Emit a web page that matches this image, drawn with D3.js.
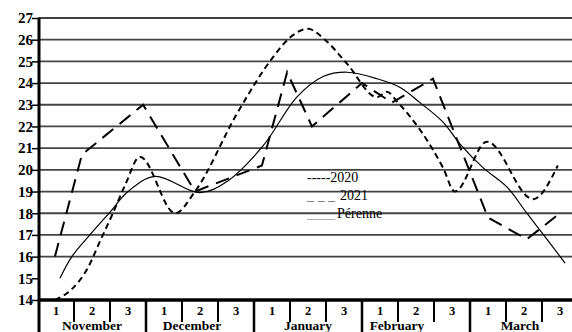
<!DOCTYPE html>
<html>
<head>
<meta charset="utf-8">
<script src="https://d3js.org/d3.v7.min.js"></script>
<style>
  body { margin: 0; background: #fff; }
  svg { display: block; font-family: "Liberation Serif", "Times New Roman", serif; }
</style>
</head>
<body>
<svg class="chart"></svg>
<script>
const svgWidth = 572;
const svgHeight = 332;

// time unit = one decade (10 days), 0 = start of November
const months = ["November", "December", "January", "February", "March"];
const decadeLabels = ["1", "2", "3"];
const yTicks = [14, 15, 16, 17, 18, 19, 20, 21, 22, 23, 24, 25, 26, 27];

// [decade position, temperature]
const data2020 = [
  [0.47, 14.0], [0.94, 14.5], [1.39, 15.5], [1.72, 16.7], [2.08, 18.0],
  [2.42, 19.3], [2.83, 20.6], [3.81, 18.0], [4.36, 19.0], [5.53, 22.6],
  [6.53, 25.2], [7.0, 26.1], [7.5, 26.5], [7.97, 26.0], [8.58, 24.9],
  [9.42, 23.35], [9.69, 23.6], [10.0, 23.1], [11.25, 20.1], [11.58, 19.0],
  [12.47, 21.3], [13.75, 18.65], [14.44, 20.2]
];
const data2021 = [
  [0.47, 16.0], [1.22, 20.7], [2.92, 23.0], [4.36, 19.0], [6.22, 20.2],
  [6.92, 24.5], [7.61, 22.0], [9.0, 24.0], [9.83, 23.1], [10.97, 24.2],
  [12.5, 17.8], [13.58, 16.8], [14.42, 17.9]
];
const dataPerenne = [
  [0.61, 15.0], [0.94, 16.0], [1.44, 17.0], [2.0, 18.05], [2.5, 19.0],
  [3.25, 19.7], [4.5, 18.95], [5.28, 19.5], [6.25, 21.1], [7.19, 23.35],
  [7.92, 24.3], [8.58, 24.5], [9.42, 24.2], [10.06, 23.8], [10.61, 23.1],
  [11.25, 22.2], [11.72, 21.2], [12.36, 20.1], [13.03, 19.2], [13.58, 18.0],
  [14.14, 16.8], [14.64, 15.7]
];

const margin = { top: 18, left: 38, bottom: 32 };
const innerBottom = svgHeight - margin.bottom; // 300

const svg = d3.select(".chart")
  .attr("width", svgWidth)
  .attr("height", svgHeight);

const x = d3.scaleLinear().domain([0, 15]).range([margin.left, margin.left + 15 * 36]);
const y = d3.scaleLinear().domain([14, 27]).range([innerBottom, margin.top]);

// horizontal grid lines (none at 15)
svg.append("g")
  .selectAll("line")
  .data(yTicks.filter(d => d !== 14 && d !== 15))
  .enter().append("line")
    .attr("x1", margin.left)
    .attr("x2", svgWidth)
    .attr("y1", d => y(d))
    .attr("y2", d => y(d))
    .attr("stroke", d => d === 27 ? "#000" : "#444")
    .attr("stroke-width", d => d === 27 ? 1.5 : 1.8);

// y axis
const yAxis = svg.append("g")
  .attr("transform", "translate(" + margin.left + ",0)")
  .call(d3.axisLeft(y).tickValues(yTicks).tickSize(6).tickSizeOuter(0).tickFormat(d3.format("d")));
yAxis.select(".domain").remove();
yAxis.selectAll(".tick line").attr("stroke", "#000").attr("stroke-width", 1.5);
yAxis.selectAll(".tick text")
  .attr("x", -5)
  .attr("font-family", "Liberation Serif")
  .attr("font-weight", "bold")
  .attr("font-size", 15)
  .attr("fill", "#000");

// decade ticks and labels under the axis
const decades = d3.range(15);
svg.append("g")
  .selectAll("line")
  .data(decades.filter(d => d % 3 !== 0))
  .enter().append("line")
    .attr("x1", d => x(d)).attr("x2", d => x(d))
    .attr("y1", innerBottom).attr("y2", innerBottom + 22)
    .attr("stroke", "#000").attr("stroke-width", 2);

svg.append("g")
  .selectAll("line")
  .data(d3.range(1, 5))
  .enter().append("line")
    .attr("x1", d => x(d * 3)).attr("x2", d => x(d * 3))
    .attr("y1", innerBottom).attr("y2", svgHeight)
    .attr("stroke", "#000").attr("stroke-width", 2.5);

svg.append("g")
  .selectAll("text")
  .data(decades)
  .enter().append("text")
    .attr("x", d => x(d + 0.5))
    .attr("y", innerBottom + 15)
    .attr("text-anchor", "middle")
    .attr("font-weight", "bold")
    .attr("font-size", 12.5)
    .text(d => decadeLabels[d % 3]);

const monthNudge = { December: -8, February: -19, March: -4 };
svg.append("g")
  .selectAll("text")
  .data(months)
  .enter().append("text")
    .attr("x", (d, i) => x(i * 3 + 1.5) + (monthNudge[d] || 0))
    .attr("y", innerBottom + 30)
    .attr("text-anchor", "middle")
    .attr("font-weight", "bold")
    .attr("font-size", 13.5)
    .text(d => d);

// main axes
svg.append("line")
  .attr("x1", margin.left).attr("x2", svgWidth)
  .attr("y1", innerBottom).attr("y2", innerBottom)
  .attr("stroke", "#000").attr("stroke-width", 3.5);
svg.append("line")
  .attr("x1", margin.left + 1).attr("x2", margin.left + 1)
  .attr("y1", margin.top).attr("y2", svgHeight)
  .attr("stroke", "#000").attr("stroke-width", 3);

// series
const lineStraight = d3.line().x(d => x(d[0])).y(d => y(d[1]));
const lineSmooth = d3.line().x(d => x(d[0])).y(d => y(d[1])).curve(d3.curveCatmullRom.alpha(0.5));
const lineSoft = d3.line().x(d => x(d[0])).y(d => y(d[1])).curve(d3.curveMonotoneX);

svg.append("path")
  .datum(data2020)
  .attr("d", lineSoft)
  .attr("fill", "none")
  .attr("stroke", "#000")
  .attr("stroke-width", 2)
  .attr("stroke-dasharray", "6,4");

svg.append("path")
  .datum(data2021)
  .attr("d", lineStraight)
  .attr("fill", "none")
  .attr("stroke", "#000")
  .attr("stroke-width", 2)
  .attr("stroke-dasharray", "14,8");

svg.append("path")
  .datum(dataPerenne)
  .attr("d", lineSmooth)
  .attr("fill", "none")
  .attr("stroke", "#000")
  .attr("stroke-width", 1.2);

// legend (typed with dashes/underscores as in the original)
const legend = svg.append("g").attr("font-size", 14);
legend.append("text").attr("x", 307).attr("y", 182).text("-----2020");
legend.append("text").attr("x", 307).attr("y", 200).attr("fill", "#666").text("_ _ _");
legend.append("text").attr("x", 340).attr("y", 200).text("2021");
legend.append("text").attr("x", 307).attr("y", 218).attr("fill", "#999").text("____");
legend.append("text").attr("x", 337).attr("y", 218).text("Pérenne");
</script>
</body>
</html>
